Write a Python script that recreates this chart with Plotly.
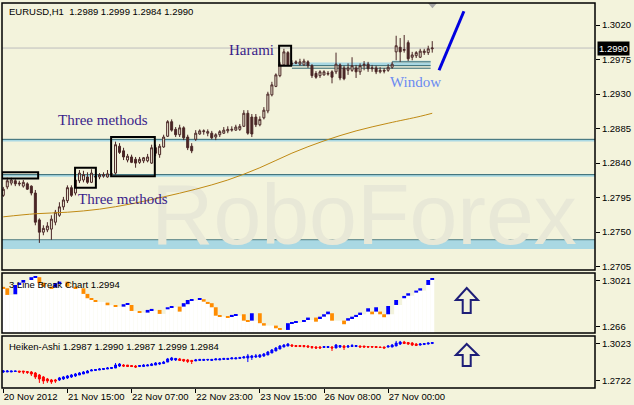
import plotly.graph_objects as go

BG = "#F3F3DC"
CANDLE = "#4A2626"
TEAL = "#2F6570"
LBLUE = "#A9D8E3"

# ---------------- main chart: EURUSD H1 candles ----------------
bar_index = list(range(108))
time_tick_bars = [0, 16, 32, 48, 64, 80, 96]
time_tick_text = ["20 Nov 2012", "21 Nov 15:00", "22 Nov 07:00", "22 Nov 23:00",
                  "23 Nov 15:00", "26 Nov 08:00", "27 Nov 00:00"]

open_ = [1.2798,1.2809,1.2814,1.2817,1.2814,1.2810,1.2813,1.2810,1.2801,1.2766,
         1.2750,1.2753,1.2754,1.2763,1.2772,1.2783,1.2791,1.2808,1.2801,1.2817,
         1.2818,1.2822,1.2815,1.2823,1.2822,1.2823,1.2822,1.2825,1.2827,1.2862,
         1.2856,1.2844,1.2848,1.2845,1.2841,1.2843,1.2843,1.2840,1.2860,1.2851,
         1.2861,1.2875,1.2894,1.2884,1.2877,1.2886,1.2874,1.2862,1.2871,1.2878,
         1.2881,1.2879,1.2879,1.2874,1.2877,1.2879,1.2882,1.2883,1.2883,1.2884,
         1.2888,1.2905,1.2900,1.2900,1.2890,1.2899,1.2908,1.2929,1.2940,1.2954,
         1.2968,1.2984,1.2969,1.2970,1.2969,1.2968,1.2972,1.2967,1.2957,1.2954,
         1.2955,1.2956,1.2959,1.2959,1.2968,1.2964,1.2961,1.2961,1.2964,1.2959,
         1.2967,1.2969,1.2963,1.2964,1.2959,1.2961,1.2961,1.2965,1.2985,1.2991,
         1.2987,1.2997,1.2978,1.2980,1.2978,1.2984,1.2984,1.2989]
high = [1.2809,1.2821,1.2821,1.2819,1.2817,1.2818,1.2815,1.2811,1.2805,1.2768,
        1.2759,1.2763,1.2772,1.2779,1.2789,1.2796,1.2811,1.2811,1.2823,1.2831,
        1.2830,1.2828,1.2832,1.2827,1.2827,1.2828,1.2831,1.2828,1.2868,1.2866,
        1.2860,1.2852,1.2851,1.2848,1.2848,1.2848,1.2852,1.2864,1.2864,1.2865,
        1.2877,1.2896,1.2897,1.2887,1.2890,1.2888,1.2877,1.2866,1.2883,1.2884,
        1.2884,1.2884,1.2882,1.2879,1.2883,1.2887,1.2888,1.2888,1.2890,1.2891,
        1.2909,1.2909,1.2904,1.2904,1.2901,1.2913,1.2933,1.2946,1.2957,1.2972,
        1.2989,1.2986,1.2974,1.2974,1.2976,1.2976,1.2974,1.2969,1.2960,1.2961,
        1.2961,1.2960,1.2961,1.2984,1.2970,1.2967,1.2970,1.2978,1.2968,1.2970,
        1.2973,1.2972,1.2968,1.2967,1.2965,1.2964,1.2969,1.2972,1.3006,1.3003,
        1.3007,1.3000,1.2985,1.2986,1.2989,1.2989,1.2993,1.2999]
low = [1.2796,1.2806,1.2811,1.2810,1.2810,1.2808,1.2805,1.2798,1.2759,1.2736,
       1.2746,1.2750,1.2740,1.2759,1.2770,1.2779,1.2788,1.2796,1.2798,1.2814,
       1.2815,1.2813,1.2814,1.2818,1.2819,1.2821,1.2821,1.2822,1.2825,1.2852,
       1.2844,1.2841,1.2840,1.2834,1.2839,1.2840,1.2841,1.2839,1.2849,1.2847,
       1.2860,1.2874,1.2881,1.2874,1.2874,1.2870,1.2857,1.2853,1.2869,1.2877,
       1.2877,1.2875,1.2871,1.2870,1.2874,1.2878,1.2879,1.2881,1.2882,1.2882,
       1.2887,1.2877,1.2874,1.2887,1.2888,1.2897,1.2905,1.2927,1.2939,1.2952,
       1.2967,1.2967,1.2967,1.2969,1.2967,1.2967,1.2964,1.2951,1.2950,1.2951,
       1.2954,1.2954,1.2944,1.2956,1.2948,1.2948,1.2955,1.2959,1.2951,1.2955,
       1.2961,1.2959,1.2959,1.2956,1.2957,1.2957,1.2959,1.2963,1.2974,1.2972,
       1.2984,1.2973,1.2974,1.2977,1.2977,1.2981,1.2981,1.2984]
close = [1.2806,1.2817,1.2818,1.2813,1.2813,1.2815,1.2806,1.2801,1.2763,1.2750,
         1.2755,1.2758,1.2767,1.2776,1.2783,1.2792,1.2808,1.2798,1.2818,1.2827,
         1.2825,1.2815,1.2827,1.2822,1.2825,1.2825,1.2826,1.2826,1.2864,1.2854,
         1.2848,1.2849,1.2841,1.2840,1.2845,1.2847,1.2848,1.2860,1.2853,1.2862,
         1.2874,1.2894,1.2883,1.2877,1.2886,1.2873,1.2860,1.2856,1.2879,1.2882,
         1.2882,1.2881,1.2873,1.2877,1.2881,1.2883,1.2884,1.2884,1.2887,1.2888,
         1.2905,1.2879,1.2878,1.2890,1.2897,1.2909,1.2930,1.2942,1.2955,1.2969,
         1.2985,1.2968,1.2970,1.2972,1.2972,1.2973,1.2967,1.2954,1.2952,1.2959,
         1.2959,1.2957,1.2952,1.2969,1.2951,1.2950,1.2964,1.2967,1.2959,1.2967,
         1.2969,1.2963,1.2964,1.2959,1.2961,1.2960,1.2965,1.2969,1.2993,1.2985,
         1.2988,1.2976,1.2981,1.2984,1.2986,1.2986,1.2989,1.2990]

ma_bars = [0, 8, 16, 24, 32, 40, 48, 56, 64, 72, 80, 88, 96, 104, 107]
ma_values = [1.2770, 1.2774, 1.2776, 1.2780, 1.2787, 1.2796, 1.2806, 1.2818,
             1.2834, 1.2853, 1.2869, 1.2882, 1.2892, 1.2901, 1.2905]

main_ticks = [1.3020, 1.2975, 1.2930, 1.2885, 1.2840, 1.2795, 1.2750, 1.2705]
last_price = 1.2990
level_lines = [1.2871, 1.2825, 1.2740]
band_low = 1.2728

# ---------------- 3 Line Break panel ----------------
lb_bars = [0,1,3,4,5,7,8,9,10,12,13,14,16,18,20,21,22,23,26,28,30,31,32,34,36,37,39,41,42,44,
           45,46,47,49,50,51,52,53,54,56,57,58,60,61,62,64,65,68,69,71,72,73,75,76,78,79,80,81,82,85,
           86,87,88,89,91,92,93,94,95,96,98,100,101,103,104,106,107]
lb_low = [1.2956,1.2909,1.2914,1.2987,1.3005,1.3026,1.3048,1.3001,1.2974,1.2956,
          1.2969,1.3001,1.2974,1.2961,1.2917,1.2883,1.2869,1.2854,1.2828,1.2817,
          1.2817,1.2830,1.2783,1.2770,1.2770,1.2785,1.2760,1.2796,1.2812,1.2778,
          1.2817,1.2836,1.2864,1.2875,1.2856,1.2838,1.2812,1.2746,1.2738,1.2731,
          1.2738,1.2746,1.2707,1.2699,1.2707,1.2687,1.2668,1.2647,1.2634,1.2634,
          1.2681,1.2691,1.2699,1.2712,1.2699,1.2726,1.2738,1.2757,1.2707,1.2679,
          1.2707,1.2723,1.2738,1.2757,1.2778,1.2757,1.2778,1.2757,1.2734,1.2757,
          1.2830,1.2883,1.2903,1.2927,1.2943,1.2987,1.3026]
lb_high = [1.2972,1.2961,1.2987,1.3005,1.3026,1.3048,1.3052,1.3048,1.3005,1.2974,
           1.3001,1.3013,1.3013,1.2974,1.2961,1.2917,1.2883,1.2869,1.2848,1.2825,
           1.2836,1.2844,1.2830,1.2778,1.2791,1.2799,1.2791,1.2812,1.2822,1.2817,
           1.2844,1.2869,1.2875,1.2880,1.2875,1.2854,1.2844,1.2812,1.2746,1.2738,
           1.2752,1.2757,1.2757,1.2707,1.2765,1.2765,1.2687,1.2668,1.2647,1.2687,
           1.2694,1.2699,1.2712,1.2731,1.2731,1.2738,1.2757,1.2778,1.2765,1.2707,
           1.2726,1.2738,1.2752,1.2770,1.2804,1.2778,1.2812,1.2778,1.2757,1.2822,
           1.2869,1.2901,1.2922,1.2943,1.2961,1.3026,1.3034]
lb_dir = list("ddbbbbbddd" "bbdddddddd" "bbddbbdbbd" "bbbbdddddd" "bbddbddddb"
              "bbbbdbbbdd" "bbbbbdbddb" "bbbbbbb")
lb_ticks = [1.3021, 1.2660]
lb_tick_text = ["1.3021", "1.266"]

# ---------------- Heiken-Ashi panel ----------------
ha_open = [1.2792,1.2792,1.2792,1.2796,1.2800,1.2800,1.2796,1.2792,1.2784,1.2768,
           1.2752,1.2736,1.2728,1.2728,1.2728,1.2736,1.2744,1.2752,1.2760,1.2768,
           1.2776,1.2784,1.2800,1.2804,1.2808,1.2812,1.2816,1.2820,1.2824,1.2840,
           1.2848,1.2848,1.2844,1.2840,1.2836,1.2836,1.2840,1.2844,1.2848,1.2856,
           1.2860,1.2872,1.2889,1.2889,1.2897,1.2893,1.2889,1.2885,1.2881,1.2885,
           1.2885,1.2889,1.2885,1.2889,1.2889,1.2893,1.2893,1.2897,1.2897,1.2901,
           1.2905,1.2905,1.2909,1.2913,1.2913,1.2921,1.2929,1.2945,1.2961,1.2977,
           1.2993,1.3001,1.3009,1.3005,1.3005,1.3005,1.3001,1.2997,1.2993,1.2993,
           1.2989,1.2989,1.2993,1.2985,1.2993,1.3001,1.2993,1.2997,1.2997,1.3001,
           1.3001,1.2997,1.2997,1.2997,1.2993,1.2993,1.2993,1.2993,1.3001,1.3017,
           1.3033,1.3029,1.3025,1.3017,1.3009,1.3013,1.3017,1.3021]
ha_close = [1.2800,1.2800,1.2800,1.2800,1.2792,1.2792,1.2788,1.2776,1.2752,1.2736,
            1.2720,1.2720,1.2712,1.2720,1.2744,1.2752,1.2760,1.2768,1.2776,1.2784,
            1.2792,1.2800,1.2808,1.2812,1.2816,1.2820,1.2824,1.2828,1.2848,1.2856,
            1.2840,1.2836,1.2836,1.2832,1.2844,1.2848,1.2848,1.2856,1.2864,1.2864,
            1.2872,1.2897,1.2905,1.2901,1.2885,1.2881,1.2877,1.2877,1.2889,1.2893,
            1.2893,1.2893,1.2893,1.2897,1.2897,1.2901,1.2901,1.2905,1.2905,1.2909,
            1.2913,1.2921,1.2921,1.2921,1.2929,1.2937,1.2953,1.2969,1.2985,1.3001,
            1.3009,1.3017,1.3001,1.2997,1.2997,1.2997,1.2993,1.2989,1.2985,1.2985,
            1.2997,1.2997,1.2985,1.3009,1.3005,1.2989,1.3001,1.3005,1.3005,1.2993,
            1.2993,1.2993,1.2993,1.2989,1.2989,1.2985,1.3001,1.3009,1.3025,1.3033,
            1.3021,1.3017,1.3009,1.3005,1.3017,1.3021,1.3025,1.3029]
ha_high = [1.2808,1.2808,1.2800,1.2800,1.2800,1.2800,1.2800,1.2800,1.2792,1.2776,
           1.2760,1.2744,1.2736,1.2736,1.2752,1.2760,1.2768,1.2776,1.2784,1.2792,
           1.2800,1.2808,1.2816,1.2816,1.2824,1.2824,1.2832,1.2832,1.2864,1.2864,
           1.2856,1.2848,1.2848,1.2848,1.2848,1.2856,1.2856,1.2864,1.2872,1.2872,
           1.2881,1.2905,1.2913,1.2905,1.2905,1.2897,1.2897,1.2889,1.2897,1.2897,
           1.2897,1.2897,1.2897,1.2901,1.2901,1.2905,1.2905,1.2909,1.2909,1.2913,
           1.2921,1.2937,1.2929,1.2937,1.2937,1.2945,1.2961,1.2977,1.2993,1.3009,
           1.3017,1.3025,1.3017,1.3009,1.3009,1.3009,1.3009,1.3001,1.3001,1.3001,
           1.3001,1.3001,1.3001,1.3017,1.3009,1.3009,1.3009,1.3017,1.3009,1.3005,
           1.3001,1.3001,1.3001,1.3001,1.2997,1.2997,1.3005,1.3017,1.3042,1.3042,
           1.3042,1.3033,1.3033,1.3025,1.3025,1.3025,1.3029,1.3033]
ha_low = [1.2784,1.2792,1.2792,1.2796,1.2784,1.2776,1.2776,1.2760,1.2736,1.2704,
          1.2696,1.2704,1.2696,1.2704,1.2720,1.2728,1.2736,1.2744,1.2752,1.2768,
          1.2776,1.2784,1.2800,1.2800,1.2808,1.2808,1.2816,1.2816,1.2824,1.2832,
          1.2832,1.2832,1.2832,1.2824,1.2832,1.2832,1.2840,1.2840,1.2848,1.2848,
          1.2856,1.2872,1.2881,1.2881,1.2881,1.2872,1.2864,1.2856,1.2881,1.2881,
          1.2881,1.2881,1.2881,1.2889,1.2889,1.2889,1.2889,1.2897,1.2897,1.2897,
          1.2901,1.2872,1.2889,1.2905,1.2905,1.2913,1.2929,1.2945,1.2961,1.2977,
          1.2993,1.3001,1.2993,1.2993,1.2993,1.2989,1.2989,1.2977,1.2977,1.2981,
          1.2985,1.2985,1.2961,1.2985,1.2985,1.2969,1.2985,1.2993,1.2993,1.2989,
          1.2989,1.2985,1.2985,1.2985,1.2985,1.2981,1.2989,1.2993,1.3001,1.3009,
          1.3017,1.3009,1.3001,1.3001,1.3005,1.3009,1.3013,1.3017]
ha_ticks = [1.3023, 1.2722]

# ---------------- layout geometry ----------------
MAIN_DOM = [0.3065, 1.0]
LB_DOM = [0.1429, 0.2987]
HA_DOM = [0.0, 0.1351]
X_RANGE = [-0.32, 147.6]
MAIN_RANGE = [1.27007, 1.30487]
LB_RANGE = [1.2610, 1.3081]
HA_RANGE = [1.26633, 1.30817]

SANS = "Liberation Sans"
SERIF = "Liberation Serif"

fig = go.Figure()

# watermark (drawn first, behind everything)
fig.add_trace(go.Scatter(x=[90.0], y=[1.2762], mode="text", text=["RoboForex"],
                         textfont=dict(family=SANS, size=86, color="#E8E8D7"),
                         hoverinfo="skip", showlegend=False, xaxis="x", yaxis="y"))

# moving average
fig.add_trace(go.Scatter(x=ma_bars, y=ma_values, mode="lines",
                         line=dict(color="#C08A14", width=1, shape="spline"),
                         hoverinfo="skip", showlegend=False, xaxis="x", yaxis="y"))

fig.add_trace(go.Candlestick(
    x=bar_index, open=open_, high=high, low=low, close=close,
    increasing=dict(line=dict(color=CANDLE, width=1), fillcolor=BG),
    decreasing=dict(line=dict(color=CANDLE, width=1), fillcolor=CANDLE),
    whiskerwidth=0, hoverinfo="skip", showlegend=False, xaxis="x", yaxis="y"))

# 3 line break: white area under blocks
fill_top = []
last = lb_low[0]
pos = 0
for i in bar_index:
    if pos < len(lb_bars) and lb_bars[pos] == i:
        last = lb_low[pos]
        pos += 1
    fill_top.append(last)
fig.add_trace(go.Bar(x=bar_index, y=[t - LB_RANGE[0] for t in fill_top], base=LB_RANGE[0],
                     width=1.0, marker=dict(color="white", line=dict(width=0)),
                     hoverinfo="skip", showlegend=False, xaxis="x", yaxis="y2"))
for d, col in (("b", "#0000FF"), ("d", "#FF8C00")):
    xs = [b for b, k in zip(lb_bars, lb_dir) if k == d]
    lo = [v for v, k in zip(lb_low, lb_dir) if k == d]
    hi = [v for v, k in zip(lb_high, lb_dir) if k == d]
    fig.add_trace(go.Bar(x=xs, y=[h - l for h, l in zip(hi, lo)], base=lo, width=0.95,
                         marker=dict(color=col, line=dict(width=0)),
                         hoverinfo="skip", showlegend=False, xaxis="x", yaxis="y2"))

fig.add_trace(go.Candlestick(
    x=bar_index, open=ha_open, high=ha_high, low=ha_low, close=ha_close,
    increasing=dict(line=dict(color="#0000FF", width=1), fillcolor="#0000FF"),
    decreasing=dict(line=dict(color="#FF0000", width=1), fillcolor="#FF0000"),
    whiskerwidth=0, hoverinfo="skip", showlegend=False, xaxis="x", yaxis="y3"))

shapes = []
# support / resistance levels
for lv in level_lines:
    shapes.append(dict(type="line", xref="x domain", yref="y", x0=0, x1=1, y0=lv - 0.00016, y1=lv - 0.00016,
                       line=dict(color=LBLUE, width=2), layer="below"))
    shapes.append(dict(type="line", xref="x domain", yref="y", x0=0, x1=1, y0=lv, y1=lv,
                       line=dict(color=TEAL, width=1), layer="below"))
shapes.append(dict(type="rect", xref="x domain", yref="y", x0=0, x1=1, y0=band_low, y1=level_lines[2] - 0.0001,
                   fillcolor=LBLUE, line=dict(width=0), layer="below"))
# window lines
shapes.append(dict(type="rect", xref="x", yref="y", x0=72, x1=106.6, y0=1.2967, y1=1.2971,
                   fillcolor=LBLUE, line=dict(width=0), layer="below"))
shapes.append(dict(type="line", xref="x", yref="y", x0=72, x1=106.6, y0=1.2967, y1=1.2967,
                   line=dict(color=TEAL, width=1), layer="below"))
shapes.append(dict(type="line", xref="x", yref="y", x0=72, x1=106.6, y0=1.29637, y1=1.29637,
                   line=dict(color=TEAL, width=1), layer="below"))
shapes.append(dict(type="rect", xref="x", yref="y", x0=97, x1=106.6, y0=1.2972, y1=1.29735,
                   fillcolor=LBLUE, line=dict(width=0), layer="below"))
shapes.append(dict(type="line", xref="x", yref="y", x0=97, x1=106.6, y0=1.2972, y1=1.2972,
                   line=dict(color=TEAL, width=1), layer="below"))
# last price line
shapes.append(dict(type="line", xref="x domain", yref="y", x0=0, x1=1, y0=last_price, y1=last_price,
                   line=dict(color="#BDBDBD", width=1), layer="below"))
# pattern boxes
for x0, x1, y0, y1 in [(-0.3, 8.7, 1.2820, 1.2828), (17.9, 23.1, 1.2808, 1.2834),
                       (26.9, 37.8, 1.2823, 1.2874), (68.8, 71.8, 1.2967, 1.2993)]:
    shapes.append(dict(type="rect", xref="x", yref="y", x0=x0, x1=x1, y0=y0, y1=y1,
                       line=dict(color="black", width=2)))
# blue trend stroke
shapes.append(dict(type="line", xref="x", yref="y", x0=108.7, y0=1.2961, x1=114.9, y1=1.3038,
                   line=dict(color="#0000E0", width=3)))
# shift marker
shapes.append(dict(type="path", xref="x", yref="y",
                   path="M 105.9,1.30487 L 108.2,1.30487 L 107.05,1.30420 Z",
                   fillcolor="#A8A8A8", line=dict(width=0)))
# up arrows
def arrow(yref, tip, head, bot):
    return dict(type="path", xref="x", yref=yref,
                path=(f"M 115.6,{tip} L 118.4,{head} L 116.6,{head} L 116.6,{bot} "
                      f"L 114.6,{bot} L 114.6,{head} L 112.9,{head} Z"),
                line=dict(color="#1E1E78", width=2), fillcolor=BG)
shapes.append(arrow("y2 domain", 0.75, 0.55, 0.333))
shapes.append(arrow("y3 domain", 0.846, 0.635, 0.423))
# panel frames
for d0, d1 in (MAIN_DOM, LB_DOM, HA_DOM):
    shapes.append(dict(type="rect", xref="paper", yref="paper", x0=0, x1=1, y0=d0, y1=d1,
                       line=dict(color="black", width=1.5)))

annotations = [
    dict(text="EURUSD,H1  1.2989 1.2999 1.2984 1.2990", xref="paper", yref="paper",
         x=0.0085, y=0.979, xanchor="left", yanchor="middle", showarrow=False,
         font=dict(family=SANS, size=9.5, color="black")),
    dict(text="3 Line Break Chart 1.2994", xref="paper", yref="paper",
         x=0.0085, y=0.270, xanchor="left", yanchor="middle", showarrow=False,
         font=dict(family=SANS, size=9.5, color="black")),
    dict(text="Heiken-Ashi 1.2987 1.2990 1.2987 1.2999 1.2984", xref="paper", yref="paper",
         x=0.0085, y=0.109, xanchor="left", yanchor="middle", showarrow=False,
         font=dict(family=SANS, size=9.5, color="black")),
    dict(text="1.2990", xref="paper", yref="y", x=1, y=last_price, xanchor="left", xshift=2,
         yanchor="middle", showarrow=False, bgcolor="black", borderpad=1,
         font=dict(family=SANS, size=9.5, color="white")),
]
for txt, xi, yp, col in [("Three methods", 24.9, 1.28962, "#3A1E8A"),
                         ("Three methods", 29.9, 1.27932, "#3A1E8A"),
                         ("Harami", 61.8, 1.29874, "#3A1E8A"),
                         ("Window", 102.7, 1.29457, "#6A8AF2")]:
    annotations.append(dict(text=txt, xref="x", yref="y", x=xi, y=yp, showarrow=False,
                            xanchor="center", yanchor="middle",
                            font=dict(family=SERIF, size=15, color=col)))

axis_common = dict(showgrid=False, zeroline=False, ticks="outside", ticklen=4,
                   tickcolor="black", tickfont=dict(family=SANS, size=9.5, color="black"),
                   showline=False, fixedrange=True)

fig.update_layout(
    width=634, height=405, margin=dict(l=2, r=39, t=3, b=17),
    paper_bgcolor=BG, plot_bgcolor=BG, showlegend=False, barmode="overlay",
    shapes=shapes, annotations=annotations,
    xaxis=dict(domain=[0, 1], range=X_RANGE, anchor="y3", tickvals=time_tick_bars,
               ticktext=time_tick_text, ticklabelposition="outside right", tickangle=0,
               rangeslider=dict(visible=False), **axis_common),
    yaxis=dict(domain=MAIN_DOM, range=MAIN_RANGE, anchor="x", side="right",
               tickvals=main_ticks, tickformat=".4f", **axis_common),
    yaxis2=dict(domain=LB_DOM, range=LB_RANGE, anchor="x", side="right",
                tickvals=lb_ticks, ticktext=lb_tick_text, **axis_common),
    yaxis3=dict(domain=HA_DOM, range=HA_RANGE, anchor="x", side="right",
                tickvals=ha_ticks, tickformat=".4f", **axis_common),
)

fig.write_html("out.html", config={"displayModeBar": False},
               post_script="document.body.style.margin='0';")
